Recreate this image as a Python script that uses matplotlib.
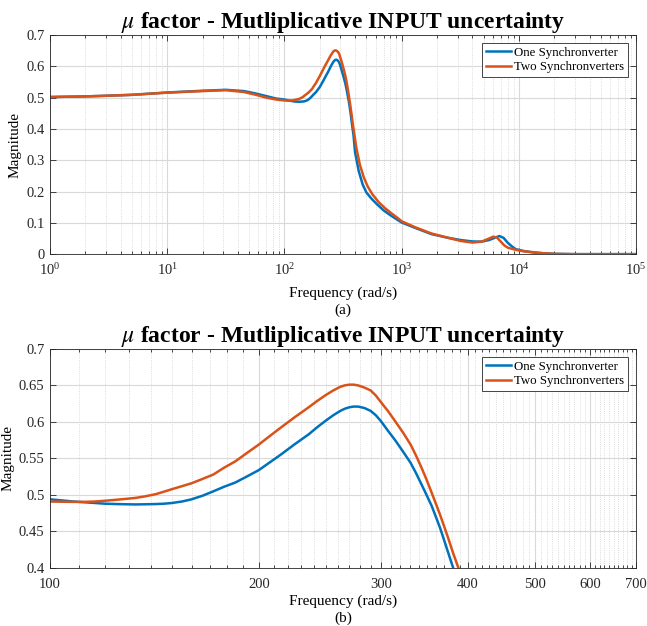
import matplotlib
matplotlib.use('Agg')
import matplotlib.pyplot as plt
import matplotlib.ticker as mticker
import numpy as np

plt.rcParams['font.family'] = ['Liberation Serif', 'DejaVu Serif']
plt.rcParams['mathtext.fontset'] = 'stix'

# ---- data (frequency in rad/s) ----
# low band (1 .. 85 rad/s), shared frequencies
freq_low = [1, 2, 3, 5, 10, 20, 31.6, 45, 55.7, 70, 85]
one_low = [0.502, 0.504, 0.506, 0.509, 0.5165, 0.522, 0.525, 0.521, 0.514, 0.505, 0.497]
two_low = [0.502, 0.504, 0.506, 0.509, 0.516, 0.521, 0.524, 0.518, 0.510, 0.500, 0.494]

# resonance band (100 .. 388 rad/s)
freq_b = [100, 104, 108, 112, 116, 120, 125, 129, 133, 137, 142, 146, 150, 155,
          160, 166, 172, 178, 185, 192, 200, 207, 215, 225, 236, 243, 250, 256,
          262, 266, 270, 274, 278, 284, 290, 295, 300, 307, 315, 323, 331, 337,
          343, 349, 355, 360, 365, 370, 375, 381, 388]
one_b = [0.494, 0.4925, 0.491, 0.490, 0.489, 0.488, 0.4875, 0.4872, 0.487,
         0.4872, 0.4875, 0.488, 0.489, 0.491, 0.494, 0.499, 0.505, 0.511, 0.517,
         0.525, 0.534, 0.544, 0.555, 0.569, 0.583, 0.593, 0.602, 0.609, 0.615,
         0.618, 0.620, 0.621, 0.621, 0.619, 0.615, 0.609, 0.601, 0.588, 0.574,
         0.559, 0.544, 0.530, 0.515, 0.500, 0.485, 0.470, 0.455, 0.438, 0.421,
         0.401, 0.38]
two_b = [0.491, 0.4907, 0.4905, 0.4905, 0.491, 0.492, 0.4935, 0.4947, 0.496,
         0.498, 0.501, 0.5045, 0.508, 0.512, 0.516, 0.522, 0.528, 0.537, 0.546,
         0.557, 0.569, 0.580, 0.592, 0.606, 0.620, 0.629, 0.637, 0.643, 0.648,
         0.650, 0.651, 0.651, 0.650, 0.647, 0.643, 0.636, 0.627, 0.615, 0.600,
         0.585, 0.569, 0.554, 0.538, 0.521, 0.503, 0.488, 0.473, 0.457, 0.441,
         0.421, 0.40]

# high band (> 388 rad/s)
freq_one_high = [400, 430, 465, 500, 550, 613, 700, 796, 900, 1000, 1300, 1795,
                 2500, 3200, 4027, 4800, 5558, 6100, 6800, 7400, 7990, 8700,
                 9380, 11000, 13500, 16000, 20200, 30000, 50000, 100000]
one_high = [0.325, 0.265, 0.222, 0.197, 0.178, 0.160, 0.140, 0.125, 0.112, 0.101,
            0.084, 0.064, 0.052, 0.045, 0.0405, 0.040, 0.045, 0.051, 0.058, 0.052,
            0.037, 0.025, 0.016, 0.010, 0.005, 0.003, 0.001, 0.0, 0.0, 0.0]
freq_two_high = [410, 440, 475, 510, 560, 640, 720, 820, 920, 1000, 1300, 1795,
                 2500, 3200, 4027, 4800, 5558, 6030, 6500, 7000, 7500, 8000,
                 8700, 9380, 11000, 13500, 16000, 20200, 30000, 50000, 100000]
two_high = [0.340, 0.285, 0.245, 0.218, 0.192, 0.165, 0.147, 0.130, 0.116, 0.105,
            0.086, 0.066, 0.052, 0.042, 0.037, 0.040, 0.050, 0.056, 0.053, 0.040,
            0.028, 0.021, 0.017, 0.014, 0.009, 0.006, 0.003, 0.001, 0.0, 0.0, 0.0]

labels = ['One Synchronverter', 'Two Synchronverters']
blue = '#0072BD'
orange = '#D95319'
title = r'$\mu$ factor - Mutliplicative INPUT uncertainty'

fig = plt.figure(figsize=(6.47, 6.26), dpi=100)
ax1 = fig.add_axes([0.0773, 0.594, 0.906, 0.350])
ax2 = fig.add_axes([0.0773, 0.0927, 0.906, 0.350])
ax1.set_xscale('log')
ax2.set_xscale('log')


def style(ax, xpad):
    ax.grid(True, which='major', color='#d9d9d9', linewidth=0.8, linestyle='-')
    ax.grid(True, which='minor', color='#d0d0d0', linewidth=0.6, linestyle=':')
    ax.tick_params(which='both', direction='in', top=True, right=True,
                   labelsize=10.5, colors='#262626', width=0.6)
    ax.tick_params(axis='x', which='major', pad=xpad)
    ax.tick_params(axis='y', which='major', pad=4)
    ax.tick_params(which='major', length=4)
    ax.tick_params(which='minor', length=2.5)
    for s in ax.spines.values():
        s.set_color('#262626')
        s.set_linewidth(0.6)
    ax.set_axisbelow(True)
    ax.set_title(title, fontsize=17, fontweight='bold', pad=3)
    ax.set_ylabel('Magnitude', fontsize=11, labelpad=3)
    leg = ax.legend(loc='upper right', fontsize=9.3, fancybox=False,
                    edgecolor='#262626', framealpha=1, handlelength=1.9,
                    handletextpad=0.3, borderpad=0.3, labelspacing=0.2,
                    borderaxespad=0.6)
    leg.get_frame().set_linewidth(0.6)


# panel (a): whole band
ax1.plot(freq_low + freq_b + freq_one_high, one_low + one_b + one_high,
         color=blue, lw=1.8, label=labels[0])
ax1.plot(freq_low + freq_b + freq_two_high, two_low + two_b + two_high,
         color=orange, lw=1.8, label=labels[1])
ax1.set_xlim(1, 1e5)
ax1.set_ylim(0, 0.7)
ax1.set_yticks(np.arange(0, 0.71, 0.1))
ax1.yaxis.set_major_formatter(mticker.FuncFormatter(lambda v, p: ('%g' % round(v, 2))))
ax1.xaxis.set_major_locator(mticker.LogLocator(base=10, numticks=10))
ax1.xaxis.set_minor_locator(mticker.LogLocator(base=10, subs=np.arange(2, 10), numticks=50))
ax1.xaxis.set_minor_formatter(mticker.NullFormatter())
style(ax1, 6)
ax1.set_xlabel('Frequency (rad/s)\n(a)', fontsize=11, linespacing=1.3, labelpad=6)

# panel (b): zoom on the resonance
ax2.plot(freq_b, one_b, color=blue, lw=1.8, label=labels[0])
ax2.plot(freq_b, two_b, color=orange, lw=1.8, label=labels[1])
ax2.set_xlim(100, 700)
ax2.set_ylim(0.4, 0.7)
ax2.set_yticks(np.arange(0.4, 0.701, 0.05))
ax2.yaxis.set_major_formatter(mticker.FuncFormatter(lambda v, p: ('%g' % round(v, 2))))
ax2.xaxis.set_major_locator(mticker.FixedLocator([100, 200, 300, 400, 500, 600, 700]))
ax2.xaxis.set_major_formatter(mticker.FuncFormatter(lambda v, p: '%d' % v))
minor_b = [v for v in range(110, 700, 10) if v % 100 != 0]
ax2.xaxis.set_minor_locator(mticker.FixedLocator(minor_b))
ax2.xaxis.set_minor_formatter(mticker.NullFormatter())
style(ax2, 7)
ax2.set_xlabel('Frequency (rad/s)\n(b)', fontsize=11, linespacing=1.3, labelpad=3)

fig.savefig('out.png', dpi=100)
